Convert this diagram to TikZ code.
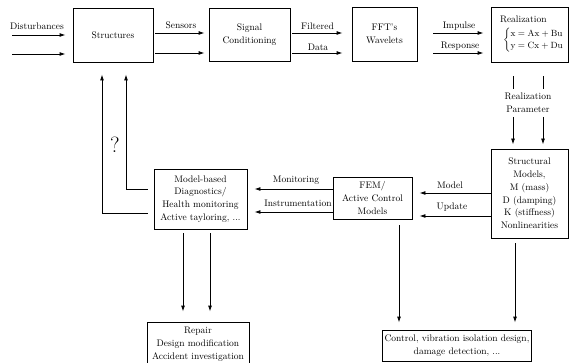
\documentclass[tikz,border=0pt]{standalone}
\usetikzlibrary{arrows.meta}
\tikzset{
  blk/.style={draw, line width=0.9pt, align=center, inner sep=2pt},
  lbl/.style={align=center, inner sep=1pt},
  flow/.style={-{Latex[length=6pt,width=4pt]}, line width=0.9pt},
}
\begin{document}
\begin{tikzpicture}[x=1pt,y=-1pt,font=\fontsize{9.5}{12.8}\selectfont]
  \useasboundingbox (0,0) rectangle (569,363);
  % blocks
  \node[blk, minimum width=80pt, minimum height=54pt] (struct) at (113,35) {Structures};
  \node[blk, minimum width=81pt, minimum height=53pt] (sig) at (249.5,34.5) {Signal\\Conditioning};
  \node[blk, minimum width=65pt, minimum height=54pt] (fft) at (384.5,34) {FFT's\\Wavelets};
  \node[blk, minimum width=77pt, minimum height=55pt, align=left] (real) at (529.5,34.5)
    {\hspace*{5pt}Realization\\[3pt]\hspace*{8pt}$\left\{\begin{array}{@{}l@{}}\mathrm{x = Ax + Bu}\\ \mathrm{y = Cx + Du}\end{array}\right.$};
  \node[blk, minimum width=77pt, minimum height=89pt] (smod) at (529.5,193.5)
    {Structural\\Models,\\M (mass)\\D (damping)\\K (stiffness)\\Nonlinearities};
  \node[blk, minimum width=79pt, minimum height=42pt] (fem) at (372.5,198) {FEM/\\Active Control\\Models};
  \node[blk, minimum width=93pt, minimum height=60pt] (diag) at (200.5,199)
    {Model-based\\Diagnostics/\\Health monitoring\\Active tayloring, ...};
  \node[blk, minimum width=102pt, minimum height=44pt] (repair) at (198,344)
    {Repair\\Design modification\\Accident investigation};
  \node[blk, minimum width=148pt, minimum height=31pt] (ctrl) at (457,345.5)
    {Control, vibration isolation design,\\damage detection, ...};

  % labels
  \node[lbl] (dist) at (37,26) {Disturbances};
  \node[lbl] (sens) at (181,25) {Sensors};
  \node[lbl] (filt) at (317.5,26) {Filtered};
  \node[lbl] (data) at (318,47) {Data};
  \node[lbl] (imp) at (459,26) {Impulse};
  \node[lbl] (resp) at (460,46) {Response};
  \node[lbl, inner sep=4pt] (rpar) at (528,103) {Realization\\Parameter};
  \node[lbl] (mdl) at (450,185) {Model};
  \node[lbl] (upd) at (452,207) {Update};
  \node[lbl] (mon) at (296,180) {Monitoring};
  \node[lbl] (inst) at (298,203) {Instrumentation};
  \node[lbl, font=\fontsize{22}{24}\selectfont] (qm) at (115,145) {?};

  % inputs
  \coordinate (in1) at (12,35);
  \coordinate (in2) at (12,54);
  \foreach \c in {in1,in2}
    \draw[flow, shorten >=7pt] (\c) -- (\c -| struct.west);

  % top row
  \foreach \a/\b/\s/\e in {struct/sig/2pt/4pt, sig/fft/2pt/9pt, fft/real/16pt/7pt}
    \foreach \y in {33,53}
      \draw[flow, shorten <=\s, shorten >=\e] (\a.east |- 0,\y) -- (\b.west |- 0,\y);

  % realization parameter
  \foreach \x in {513,543} {
    \draw[line width=0.9pt, shorten <=14pt] (real.south -| \x,0) -- (rpar.north -| \x,0);
    \draw[flow, shorten >=4pt] (rpar.south -| \x,0) -- (smod.north -| \x,0);
  }

  % model update / monitoring
  \foreach \y in {193,216}
    \draw[flow, shorten >=7pt] (smod.west |- 0,\y) -- (fem.east |- 0,\y);
  \foreach \y in {189,212}
    \draw[flow, shorten >=7pt] (fem.west |- 0,\y) -- (diag.east |- 0,\y);

  % feedback
  \foreach \y/\x in {189/126, 213/102}
    \draw[flow, shorten <=6pt, shorten >=12pt] (diag.west |- 0,\y) -| (struct.south -| \x,0);

  % outputs
  \foreach \x in {183,210}
    \draw[flow, shorten <=4pt, shorten >=10pt] (diag.south -| \x,0) -- (repair.north -| \x,0);
  \draw[flow, shorten <=6pt, shorten >=7pt] (fem.south -| 399,0) -- (ctrl.north -| 399,0);
  \draw[flow, shorten <=5pt, shorten >=7pt] (smod.south -| 515,0) -- (ctrl.north -| 515,0);
\end{tikzpicture}
\end{document}
